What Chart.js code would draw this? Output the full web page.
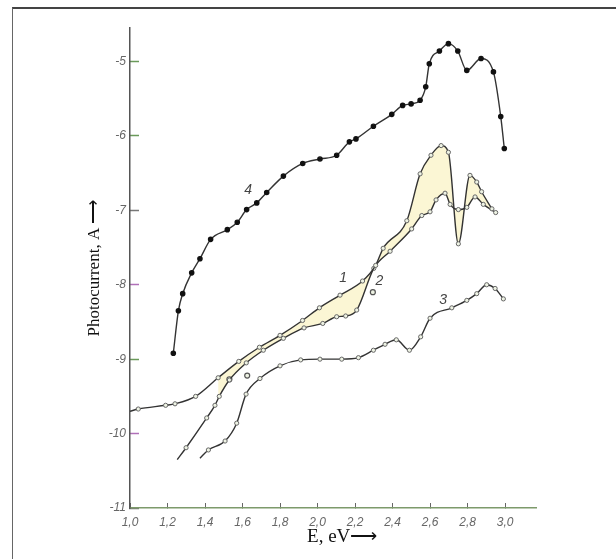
<!DOCTYPE html>
<html>
<head>
<meta charset="utf-8">
<script src="https://cdn.jsdelivr.net/npm/chart.js@4.4.0/dist/chart.umd.min.js"></script>
<style>
  html, body { margin: 0; padding: 0; background: #fff; }
  #wrap { position: relative; width: 616px; height: 559px; overflow: hidden; }
  #frame { position: absolute; left: 12px; top: 7px; width: 640px; height: 600px;
           border-top: 2px solid #444; border-left: 1px solid #666; }
  canvas { position: absolute; left: 0; top: 0; }
</style>
</head>
<body>
<div id="wrap">
  <div id="frame"></div>
  <canvas id="chart" width="616" height="559"></canvas>
</div>
<script>
// DATA (E in eV, log photocurrent)
const curve1_e = [1.00, 1.044, 1.19, 1.24, 1.35, 1.47, 1.58, 1.69, 1.80, 1.92, 2.01, 2.12, 2.24, 2.31,
  2.35, 2.476, 2.547, 2.605, 2.659, 2.698, 2.751, 2.813, 2.849, 2.875, 2.93];
const curve1_v = [-9.70, -9.67, -9.62, -9.60, -9.50, -9.25, -9.03, -8.84, -8.68, -8.48, -8.31, -8.14, -7.95, -7.74,
  -7.51, -7.14, -6.51, -6.26, -6.13, -6.22, -7.45, -6.53, -6.62, -6.75, -6.98];

const curve2_e = [1.252, 1.299, 1.409, 1.453, 1.476, 1.53, 1.62, 1.711, 1.818, 1.928, 2.028, 2.102, 2.15, 2.209,
  2.30, 2.387, 2.502, 2.556, 2.60, 2.632, 2.68, 2.707, 2.751, 2.796, 2.84, 2.884, 2.95];
const curve2_v = [-10.35, -10.19, -9.79, -9.62, -9.50, -9.28, -9.05, -8.88, -8.72, -8.58, -8.52, -8.43, -8.42, -8.34,
  -7.78, -7.55, -7.25, -7.07, -7.02, -6.86, -6.77, -6.92, -6.99, -6.96, -6.82, -6.92, -7.03];

const curve3_e = [1.373, 1.418, 1.507, 1.569, 1.619, 1.693, 1.80, 1.91, 2.013, 2.129, 2.218, 2.298, 2.36, 2.42,
  2.49, 2.55, 2.60, 2.716, 2.796, 2.849, 2.902, 2.947, 2.991];
const curve3_v = [-10.33, -10.22, -10.10, -9.86, -9.47, -9.26, -9.09, -9.01, -9.00, -9.00, -8.98, -8.88, -8.80, -8.74,
  -8.88, -8.70, -8.45, -8.31, -8.21, -8.12, -8.00, -8.05, -8.19];

const curve4_e = [1.231, 1.258, 1.281, 1.329, 1.373, 1.430, 1.519, 1.572, 1.622, 1.676, 1.729, 1.818, 1.921, 2.013,
  2.102, 2.170, 2.205, 2.298, 2.396, 2.454, 2.499, 2.547, 2.577, 2.596, 2.650, 2.698, 2.748, 2.796, 2.872, 2.938,
  2.977, 2.996];
const curve4_v = [-8.92, -8.35, -8.12, -7.84, -7.65, -7.39, -7.26, -7.16, -6.99, -6.90, -6.76, -6.54, -6.37, -6.31,
  -6.26, -6.08, -6.04, -5.87, -5.71, -5.59, -5.57, -5.52, -5.34, -5.03, -4.86, -4.76, -4.86, -5.12, -4.96, -5.14,
  -5.74, -6.17];

// stray measured points
const extra_e = [1.53, 1.625, 2.295];
const extra_v = [-9.27, -9.22, -8.10];

// curve numbers
const curveNames = ['1', '2', '3', '4'];
const labelE = [2.136, 2.33, 2.67, 1.63];
const labelV = [-7.91, -7.95, -8.21, -6.73];

const xTicks = [1.0, 1.2, 1.4, 1.6, 1.8, 2.0, 2.2, 2.4, 2.6, 2.8, 3.0];
const yTicks = [-11, -10, -9, -8, -7, -6, -5];
const yTickColors = ['#777', '#b070b8', '#6a9a5a', '#b070b8', '#777', '#6a9a5a', '#6a9a5a'];

const yTitle = 'Photocurrent, A \u27F6';
const xTitle = 'E, eV\u27F6';

// region between curves 1 and 2 that is shaded
const fillFrom = 1.45;

function toPoints(xs, ys) {
  return xs.map((x, i) => ({ x: x, y: ys[i] }));
}

const fill1 = toPoints(curve1_e, curve1_v).filter(p => p.x >= fillFrom);
const fill2 = toPoints(curve2_e, curve2_v).filter(p => p.x >= fillFrom);

const LINE = '#333';
const noFirst = ctx => (ctx.dataIndex === 0 ? 0 : 2.1);

function openCurve(data) {
  return {
    data: data,
    borderColor: LINE,
    borderWidth: 1.4,
    pointRadius: noFirst,
    pointBackgroundColor: '#eef3e4',
    pointBorderColor: '#666',
    pointBorderWidth: 1,
    tension: 0.4,
    cubicInterpolationMode: 'monotone',
    fill: false,
    order: 1,
  };
}

// curve labels and x title
const textPlugin = {
  id: 'textPlugin',
  afterDatasetsDraw(chart) {
    const { ctx, scales: { x, y } } = chart;
    ctx.save();
    ctx.font = 'italic 14px "Liberation Sans"';
    ctx.fillStyle = '#444';
    ctx.textAlign = 'center';
    ctx.textBaseline = 'middle';
    curveNames.forEach((n, i) => {
      ctx.fillText(n, x.getPixelForValue(labelE[i]), y.getPixelForValue(labelV[i]));
    });
    ctx.font = '19px "Liberation Serif"';
    ctx.fillStyle = '#111';
    ctx.textAlign = 'left';
    ctx.fillText(xTitle, x.getPixelForValue(1.944), y.bottom + 29);
    ctx.restore();
  },
};

const ctx = document.getElementById('chart').getContext('2d');

new Chart(ctx, {
  type: 'line',
  data: {
    datasets: [
      {
        data: fill1,
        borderColor: 'rgba(0,0,0,0)',
        borderWidth: 0,
        pointRadius: 0,
        backgroundColor: '#fbf6d4',
        fill: '+1',
        tension: 0.4,
        cubicInterpolationMode: 'monotone',
        order: 10,
      },
      {
        data: fill2,
        borderColor: 'rgba(0,0,0,0)',
        borderWidth: 0,
        pointRadius: 0,
        fill: false,
        tension: 0.4,
        cubicInterpolationMode: 'monotone',
        order: 10,
      },
      openCurve(toPoints(curve1_e, curve1_v)),
      openCurve(toPoints(curve2_e, curve2_v)),
      openCurve(toPoints(curve3_e, curve3_v)),
      {
        data: toPoints(curve4_e, curve4_v),
        borderColor: LINE,
        borderWidth: 1.4,
        pointRadius: 2.1,
        pointBackgroundColor: '#111',
        pointBorderColor: '#111',
        tension: 0.4,
        cubicInterpolationMode: 'monotone',
        fill: false,
        order: 1,
      },
      {
        data: toPoints(extra_e, extra_v),
        showLine: false,
        pointRadius: 2.5,
        pointBackgroundColor: '#eef3e4',
        pointBorderColor: '#555',
        pointBorderWidth: 1.2,
        order: 1,
      },
    ],
  },
  options: {
    responsive: false,
    animation: false,
    layout: { padding: { left: 0, top: 28, right: 80, bottom: 0 } },
    plugins: { legend: { display: false }, tooltip: { enabled: false } },
    scales: {
      x: {
        type: 'linear',
        min: 1.0,
        max: 3.165,
        afterBuildTicks: s => { s.ticks = xTicks.map(v => ({ value: v })); },
        afterFit: s => { s.height = 51; },
        ticks: {
          callback: v => v.toFixed(1).replace('.', ','),
          font: { family: 'Liberation Sans', style: 'italic', size: 12 },
          color: '#666',
          padding: 12,
          maxRotation: 0,
          autoSkip: false,
        },
        grid: { drawOnChartArea: false, tickLength: -5, tickColor: '#666', tickWidth: 1 },
        border: { color: '#7d9a6b', width: 1.5 },
      },
      y: {
        min: -11,
        max: -4.55,
        afterBuildTicks: s => { s.ticks = yTicks.map(v => ({ value: v })); },
        afterFit: s => { s.width = 130; },
        ticks: {
          callback: v => String(v),
          font: { family: 'Liberation Sans', style: 'italic', size: 12 },
          color: '#666',
          padding: 13,
        },
        grid: { drawOnChartArea: false, tickLength: -9, tickColor: yTickColors, tickWidth: 1.5 },
        border: { color: '#555', width: 1.5 },
        title: {
          display: true,
          text: yTitle,
          font: { family: 'Liberation Serif', size: 17 },
          color: '#111',
          padding: { top: 84 },
        },
      },
    },
  },
  plugins: [textPlugin],
});
</script>
</body>
</html>
